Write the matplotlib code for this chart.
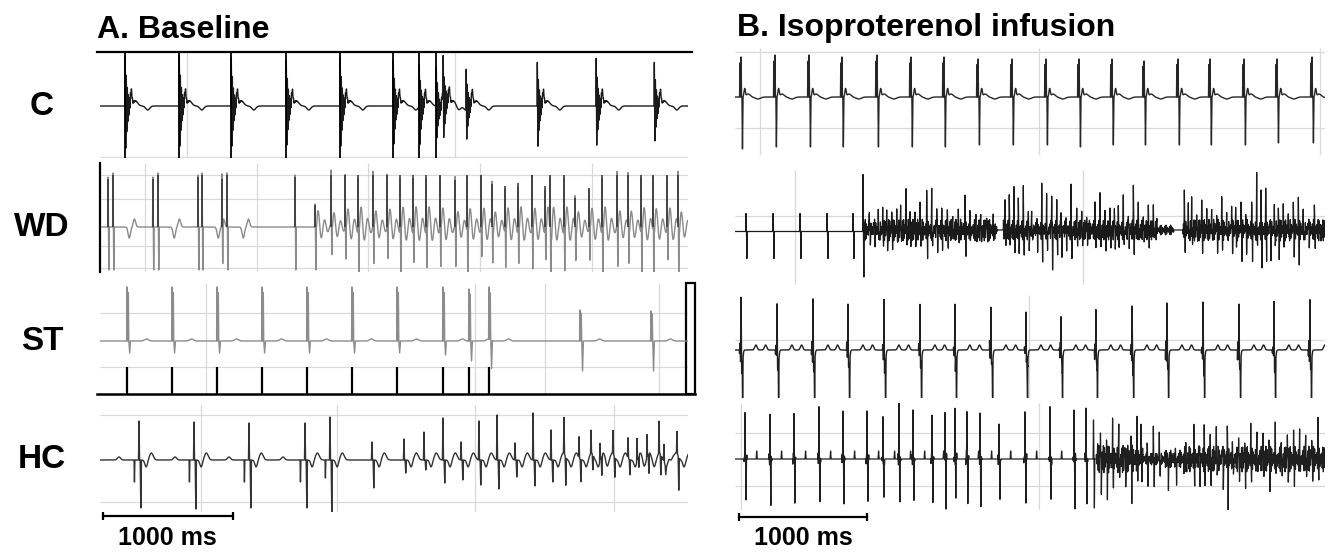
import numpy as np
import matplotlib.pyplot as plt

plt.rcParams['font.family'] = ['Liberation Sans', 'DejaVu Sans']

# ---- data: beat / spike times in ms, amplitudes in trace units (above / below baseline) ----
# A. Baseline
a_c_beats = [192, 608, 1008, 1431, 1846, 2254, 2454, 2585, 2638, 2815, 3362, 3815, 4262]
a_c_up = [50, 50, 48, 45, 48, 45, 42, 38, 45, 40, 43, 47, 43]
a_c_dn = [40, 38, 38, 37, 38, 36, 36, 30, 33, 28, 38, 37, 33]
a_c_marks = [192, 608, 1008, 1431, 1846, 2254, 2454, 2585]

a_wd_spikes = [62, 100, 407, 446, 754, 785, 938, 977, 1500,
               1654, 1777, 1885, 1985, 2100, 2208,
               2308, 2408, 2508, 2615, 2731, 2823, 2931, 3015, 3115, 3215, 3323, 3423,
               3462, 3569, 3654, 3762, 3862, 3977, 4062, 4162, 4254, 4362, 4446]
a_wd_up = [50, 54, 50, 54, 52, 54, 50, 54, 52,
           23, 54, 54, 54, 54, 54,
           54, 54, 54, 54, 48, 54, 54, 44, 42, 45, 54, 42,
           54, 54, 30, 40, 54, 54, 54, 54, 54, 54, 54]
a_wd_dn = [43, 43, 43, 43, 43, 43, 43, 43, 43,
           43, 30, 33, 43, 40, 33,
           43, 32, 37, 40, 43, 43, 30, 33, 37, 33, 43, 30,
           43, 42, 30, 33, 43, 43, 33, 43, 43, 33, 43]
a_wd_twave = [100, 446, 785, 977]
a_wd_fast_from = 1600

a_st_beats = [208, 554, 900, 1246, 1592, 1938, 2285, 2638, 2838, 2992, 3692, 4238]
a_st_up = [54, 54, 54, 54, 54, 54, 54, 54, 52, 52, 31, 30]
a_st_dn = [12, 12, 12, 12, 12, 12, 12, 14, 20, 28, 30, 30]
a_st_marks = [208, 554, 900, 1246, 1592, 1938, 2285, 2638, 2838, 2992]

a_hc_beats = [300, 723, 1146, 1577, 1769, 2092, 2338, 2492, 2638, 2777, 2915, 3054, 3192,
              3331, 3469, 3569, 3685, 3777, 3846, 3946, 4062, 4131, 4208, 4300, 4338, 4438]
a_hc_up = [39, 38, 37, 37, 43, 18, 21, 28, 42, 18, 39, 45, 17,
           47, 30, 36, 21, 23, 18, 23, 20, 23, 23, 32, 17, 22]
a_hc_dn = [48, 49, 48, 48, 53, 28, 13, 10, 23, 20, 25, 29, 17,
           26, 22, 28, 22, 15, 20, 20, 15, 12, 20, 20, 8, 33]
a_hc_pre = [22, 22, 22, 22, 18, 0, 0, 0, 0, 0, 0, 0, 0,
            0, 0, 0, 0, 0, 0, 0, 0, 0, 0, 0, 0, 0]
a_hc_p = [146, 577, 992, 1408]

# B. Isoproterenol infusion
b_c_beats = [47, 310, 574, 829, 1101, 1364, 1620, 1884, 2147, 2411, 2667, 2922, 3171,
             3434, 3682, 3946, 4202, 4473]
b_c_up = [40, 42, 42, 40, 42, 40, 40, 38, 38, 38, 38, 38, 36, 38, 38, 38, 38, 40]
b_c_dn = [52, 50, 50, 50, 50, 50, 50, 48, 48, 48, 50, 48, 48, 48, 48, 48, 46, 46]

b_wd_spikes = [85, 295, 504, 713, 915, 992,
               1041, 1078, 1111, 1145, 1176, 1215, 1254, 1284, 1326, 1357, 1395, 1434,
               1486, 1525, 1564, 1602, 1646, 1688, 1731, 1783, 1822, 1868, 1905, 1951,
               2002, 2093, 2126, 2163, 2196, 2235, 2274,
               2300, 2339, 2378, 2416, 2455, 2494, 2527, 2564, 2605, 2649, 2688, 2726,
               2791, 2830, 2868, 2907, 2941, 2971, 3010, 3049, 3088, 3126, 3165, 3204, 3243,
               3483, 3514, 3540, 3579, 3618, 3657, 3695, 3734, 3773, 3812, 3850, 3881,
               3923, 3959, 4005, 4044, 4078, 4114, 4147, 4181, 4212, 4250, 4289, 4328,
               4367, 4405, 4444, 4491, 4535]
b_wd_up = [18, 18, 18, 18, 18, 52,
           26, 17, 18, 17, 23, 18, 17, 28, 38, 22, 18, 25,
           33, 38, 32, 22, 25, 15, 18, 28, 15, 18, 22, 15,
           12, 32, 28, 37, 32, 37, 25,
           22, 15, 37, 33, 43, 25, 27, 18, 43, 18, 22, 15,
           23, 35, 25, 22, 28, 18, 32, 22, 40, 22, 18, 25, 22,
           40, 25, 30, 18, 30, 18, 22, 18, 27, 20, 32, 18,
           33, 20, 28, 48, 33, 35, 18, 28, 22, 22, 18, 32,
           25, 18, 13, 25, 8]
b_wd_dn = [27, 27, 27, 27, 27, 47,
           17, 12, 18, 15, 23, 12, 18, 13, 20, 15, 12, 20,
           22, 25, 20, 13, 15, 12, 17, 20, 12, 15, 13, 10,
           7, 18, 15, 25, 18, 28, 22,
           18, 15, 32, 27, 38, 22, 25, 15, 33, 18, 17, 12,
           15, 20, 22, 15, 18, 13, 20, 17, 22, 12, 13, 15, 10,
           12, 13, 17, 13, 17, 13, 17, 15, 20, 15, 20, 17,
           22, 15, 23, 20, 32, 25, 27, 25, 22, 17, 15, 18,
           35, 17, 13, 13, 8]
# dense fibrillation activity: (start ms, end ms, amplitude)
b_wd_fib_start = [992, 2080, 3270, 3470]
b_wd_fib_end = [2030, 3270, 3400, 4574]
b_wd_fib_amp = [11, 10, 5, 11]

b_st_beats = [47, 326, 605, 876, 1155, 1434, 1705, 1985, 2256, 2527, 2798, 3078, 3349,
              3628, 3907, 4178, 4457]
b_st_up = [50, 50, 49, 50, 49, 50, 50, 51, 50, 50, 50, 51, 50, 50, 50, 51, 50]
b_st_dn = [43, 43, 43, 43, 43, 43, 43, 43, 43, 43, 43, 43, 43, 43, 43, 43, 43]

b_hc_beats = [78, 271, 457, 651, 837, 1023, 1147, 1271, 1380, 1527, 1628, 1705, 1798,
              1899, 2047, 2248, 2442, 2628, 2721]
b_hc_up = [51, 41, 51, 50, 48, 50, 41, 51, 44, 49, 49, 49, 48, 46, 33, 49, 49, 49, 46]
b_hc_dn = [43, 44, 43, 44, 43, 43, 44, 43, 44, 45, 45, 45, 44, 44, 44, 43, 44, 44, 46]
b_hc_fib = [2779, 2833, 2880, 2927, 2975, 3022, 3069, 3116, 3147, 3195, 3243, 3289, 3353,
            3416, 3495, 3557, 3598, 3637, 3684, 3731, 3778, 3816, 3857, 3904, 3951, 3998,
            4046, 4093, 4140, 4188, 4235, 4282, 4330, 4377, 4424, 4471, 4519]
b_hc_fib_up = [39, 33, 19, 29, 39, 16, 23, 29, 44, 16, 31, 26, 6,
               9, 8, 23, 26, 26, 19, 34, 21, 33, 18, 29, 16, 26,
               31, 31, 19, 26, 19, 28, 23, 19, 26, 23, 34]
b_hc_fib_dn = [49, 34, 31, 29, 24, 26, 32, 21, 27, 24, 29, 22, 34,
               31, 16, 27, 24, 21, 29, 24, 26, 39, 24, 21, 22, 22,
               19, 16, 22, 19, 21, 21, 19, 17, 21, 19, 12]
b_hc_blob_start = [2800, 3160, 3330, 3480]
b_hc_blob_end = [3160, 3330, 3480, 4574]
b_hc_blob_amp = [14, 6, 9, 13]

# ---- waveform pieces ----
def tri(t, c, w):
    return np.clip(1 - np.abs(t - c) / w, 0, None)

def bump(t, c, w):
    return np.exp(-0.5 * ((t - c) / w) ** 2)

def ring(t, c, period, tau):
    u = t - c
    return np.where(u >= 0, np.sin(2 * np.pi * u / period) * np.exp(-np.clip(u, 0, None) / tau), 0.0)

def buzz(t, start, end, amp):
    inside = (t >= start) & (t <= end)
    return np.where(inside, amp * np.sin(2 * np.pi * t / 9.0) * (0.65 + 0.35 * np.sin(2 * np.pi * t / 37.0)), 0.0)

W, H = 1337, 554
fig = plt.figure(figsize=(W / 100, H / 100), dpi=100)
TA = 588 * 1000 / 130
TB = 590 * 1000 / 129
grid_c = '#d9d9d9'

def row_axes(x0, x1, ytop, ybase, ybot, tmax):
    ax = fig.add_axes([x0 / W, 1 - ybot / H, (x1 - x0) / W, (ybot - ytop) / H])
    ax.set_xlim(0, tmax)
    ax.set_ylim(-(ybot - ybase), ybase - ytop)
    ax.axis('off')
    return ax

def grid(ax, xs, ys, tmax):
    lo, hi = ax.get_ylim()
    if xs:
        ax.vlines(xs, lo, hi, color=grid_c, lw=0.9, zorder=0)
    if ys:
        ax.hlines(ys, 0, tmax, color=grid_c, lw=0.9, zorder=0)

ta = np.arange(0, TA, 0.5)
tb = np.arange(0, TB, 0.5)

# ---------- A: C ----------
ax = row_axes(100, 688, 51, 106, 158, TA)
grid(ax, [669, 2731], [-51], TA)
y = np.zeros_like(ta)
for t0, up, dn in zip(a_c_beats, a_c_up, a_c_dn):
    r = ring(ta, t0, 8, 16)
    y += np.where(r > 0, r * up / 0.87, r * dn / 0.65)
    y += 14 * bump(ta, t0 + 48, 6) + 5 * bump(ta, t0 + 80, 18) - 4 * bump(ta, t0 + 175, 15)
ax.plot(ta, y, color='#1a1a1a', lw=1.0)
ax.vlines(a_c_marks, -52, 55, color='black', lw=1.3)
ax.plot([-25, TA + 30], [54.5, 54.5], color='black', lw=1.6, clip_on=False)

# ---------- A: WD ----------
ax = row_axes(100, 688, 163, 227, 272, TA)
grid(ax, [346, 1208, 2062, 2923, 3785], [52, 28, -19, -41], TA)
y = np.zeros_like(ta)
for ts, up, dn in zip(a_wd_spikes, a_wd_up, a_wd_dn):
    y += up * tri(ta, ts, 3) - dn * tri(ta, ts + 6, 3)
    if ts >= a_wd_fast_from:
        y += 20 * ring(ta, ts + 12, 50, 60)
for tb0 in a_wd_twave:
    y += -11 * bump(ta, tb0 + 125, 9) + 8 * bump(ta, tb0 + 165, 9)
ax.plot(ta, y, color='#8a8a8a', lw=1.0)
ax.vlines(a_wd_spikes, 0, np.array(a_wd_up) * 0.97, color='#303030', lw=1.1)
ax.plot([0, 0], [-45, 64], color='black', lw=1.6, clip_on=False)

# ---------- A: ST ----------
ax = row_axes(100, 688, 283, 341, 394, TA)
grid(ax, [815, 2885, 3423, 4300], [28, -26], TA)
y = np.zeros_like(ta)
for t0, up, dn in zip(a_st_beats, a_st_up, a_st_dn):
    y += up * tri(ta, t0, 3) + 0.9 * up * tri(ta, t0 + 10, 3) - dn * tri(ta, t0 + 20, 6)
    y += 2 * bump(ta, t0 + 150, 15)
ax.plot(ta, y, color='#8c8c8c', lw=1.0)
ax.vlines(a_st_marks, -53, -26, color='black', lw=1.6)
ax.plot([-23, TA + 55], [-53, -53], color='black', lw=1.8, clip_on=False)
ax.add_patch(plt.Rectangle((4508, -53), 69, 111, fill=False, edgecolor='black', lw=1.6, clip_on=False))

# ---------- A: HC ----------
ax = row_axes(100, 688, 405, 460, 512, TA)
grid(ax, [777, 1823, 2885, 3954], [45, -42], TA)
y = np.zeros_like(ta)
for t0, up, dn, pre in zip(a_hc_beats, a_hc_up, a_hc_dn, a_hc_pre):
    y += up * tri(ta, t0, 4) - dn * tri(ta, t0 + 14, 5) - pre * tri(ta, t0 - 35, 3)
    y += -7 * bump(ta, t0 + 55, 10) + 7 * bump(ta, t0 + 95, 14)
for tp in a_hc_p:
    y += 3 * bump(ta, tp, 12)
ax.plot(ta, y, color='#333333', lw=1.0)
ax.plot([23, 1023], [-56, -56], color='black', lw=1.6, clip_on=False)
ax.vlines([23, 1023], -60, -52, color='black', lw=1.6, clip_on=False)
ax.text(515, -78, '1000 ms', ha='center', va='center', fontsize=18, fontweight='bold')

# ---------- B: C ----------
ax = row_axes(735, 1325, 48, 97, 155, TB)
grid(ax, [194, 2357, 4535], [45, -31], TB)
y = np.zeros_like(tb)
for t0, up, dn in zip(b_c_beats, b_c_up, b_c_dn):
    y += 0.85 * up * tri(tb, t0 - 9, 2.5) + up * tri(tb, t0, 4) - dn * tri(tb, t0 + 11, 4)
    y += 8 * bump(tb, t0 + 28, 5) + 3 * bump(tb, t0 + 55, 15) - 2 * bump(tb, t0 + 130, 20)
ax.plot(tb, y, color='#262626', lw=1.0)

# ---------- B: WD ----------
ax = row_axes(735, 1325, 170, 230, 285, TB)
grid(ax, [465, 2698], [14], TB)
y = np.zeros_like(tb)
for ts, up, dn in zip(b_wd_spikes, b_wd_up, b_wd_dn):
    y += up * tri(tb, ts, 3) - dn * tri(tb, ts + 7, 3)
for s, e, a in zip(b_wd_fib_start, b_wd_fib_end, b_wd_fib_amp):
    y += buzz(tb, s, e, a)
y += -1.5 * (tb < b_wd_spikes[5])
ax.plot(tb, y, color='#1a1a1a', lw=0.9)

# ---------- B: ST ----------
ax = row_axes(735, 1325, 295, 350, 398, TB)
grid(ax, [2279], [10], TB)
y = np.zeros_like(tb)
for t0, up, dn in zip(b_st_beats, b_st_up, b_st_dn):
    y += up * tri(tb, t0, 3) - 17 * bump(tb, t0 + 8, 6) - dn * tri(tb, t0 + 12, 3)
    y += buzz(tb, t0 - 12, t0 + 14, 10)
    y += 5 * bump(tb, t0 + 115, 9) + 5 * bump(tb, t0 + 190, 9)
ax.plot(tb, y, color='#1f1f1f', lw=1.0)

# ---------- B: HC ----------
ax = row_axes(735, 1325, 403, 459, 510, TB)
grid(ax, [47, 2357], [26, -27], TB)
y = np.zeros_like(tb)
for t0, up, dn in zip(b_hc_beats, b_hc_up, b_hc_dn):
    y += up * tri(tb, t0, 3) - dn * tri(tb, t0 + 7, 3)
    y += buzz(tb, t0 - 10, t0 + 14, 6) + 8 * tri(tb, t0 + 90, 4)
for ts, up, dn in zip(b_hc_fib, b_hc_fib_up, b_hc_fib_dn):
    y += up * tri(tb, ts, 3) - dn * tri(tb, ts + 7, 3)
for s, e, a in zip(b_hc_blob_start, b_hc_blob_end, b_hc_blob_amp):
    y += buzz(tb, s, e, a)
ax.plot(tb, y, color='#1f1f1f', lw=0.9)
ax.plot([31, 1023], [-58, -58], color='black', lw=1.6, clip_on=False)
ax.vlines([31, 1023], -62, -54, color='black', lw=1.6, clip_on=False)
ax.text(527, -79, '1000 ms', ha='center', va='center', fontsize=18, fontweight='bold')

# ---------- titles and row labels ----------
fig.text(97 / W, 1 - 30 / H, 'A. Baseline', ha='left', va='center', fontsize=23, fontweight='bold')
fig.text(737 / W, 1 - 28 / H, 'B. Isoproterenol infusion', ha='left', va='center', fontsize=23, fontweight='bold')
for lab, yb in zip(['C', 'WD', 'ST', 'HC'], [106, 227, 341, 460]):
    fig.text(42 / W, 1 - yb / H, lab, ha='center', va='center', fontsize=24, fontweight='bold')

fig.savefig('out.png', dpi=100)
